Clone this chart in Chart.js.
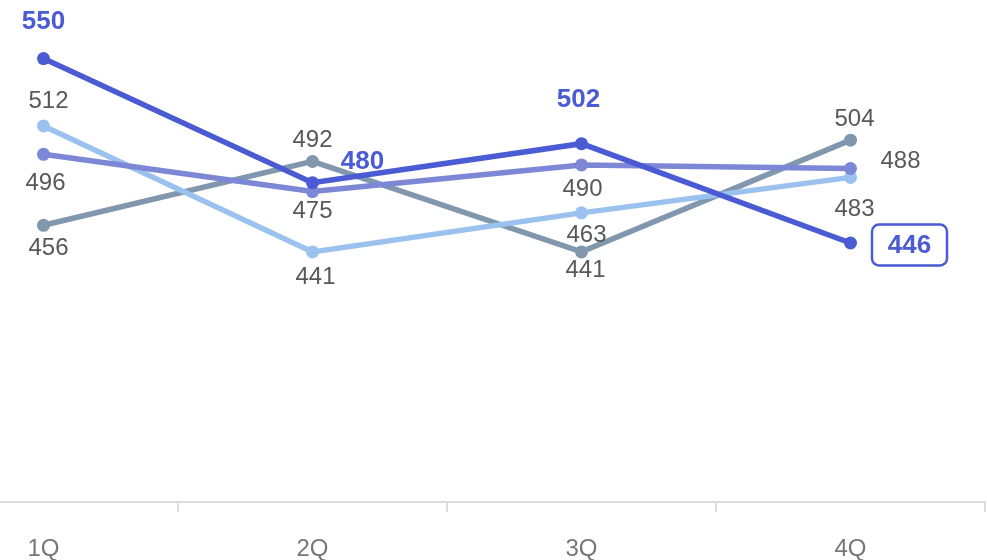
<!DOCTYPE html>
<html>
<head>
<meta charset="utf-8">
<script src="https://cdn.jsdelivr.net/npm/chart.js@4/dist/chart.umd.min.js"></script>
<style>
html,body{margin:0;padding:0;background:#fff;overflow:hidden;width:987px;height:560px;}
#wrap{position:absolute;left:-91px;top:0;width:1078px;height:560px;}
</style>
</head>
<body>
<div id="wrap"><canvas id="c" width="1078" height="560"></canvas></div>
<script>
const categories = ['1Q', '2Q', '3Q', '4Q'];
const seriesA = [550, 480, 502, 446];
const seriesB = [512, 441, 463, 483];
const seriesC = [496, 475, 490, 488];
const seriesD = [456, 492, 441, 504];

// label placement offsets (style only)
const labelOffsetsA = [[0,-38],[50,-22],[-3,-45],[59,2]];
const labelOffsetsB = [[5,-26],[3,24],[5,22],[4,31]];
const labelOffsetsC = [[2,28],[0,19],[1,23],[50,-8]];
const labelOffsetsD = [[5,22],[0,-22],[4,17],[4,-22]];

const COL_A = '#4a5bd4', COL_B = '#9bc2ee', COL_C = '#7c87d6', COL_D = '#8097ae';

function ds(data, color, offs, bold, boxLast) {
  return {
    data, borderColor: color, backgroundColor: color,
    borderWidth: 5.5, pointRadius: 6.5, pointHoverRadius: 6.5,
    pointBorderWidth: 0, tension: 0, fill: false,
    labelOffsets: offs, labelBold: bold, labelBoxLast: boxLast
  };
}

const labelPlugin = {
  id: 'vlabels',
  afterDatasetsDraw(chart) {
    const ctx = chart.ctx;
    chart.data.datasets.forEach((d, di) => {
      const meta = chart.getDatasetMeta(di);
      meta.data.forEach((pt, i) => {
        const [dx, dy] = d.labelOffsets[i];
        const x = pt.x + dx, y = pt.y + dy;
        ctx.save();
        ctx.textAlign = 'center';
        ctx.textBaseline = 'middle';
        if (d.labelBold) {
          ctx.font = 'bold 26px "Liberation Sans", Arial, sans-serif';
          ctx.fillStyle = d.borderColor;
          if (d.labelBoxLast && i === meta.data.length - 1) {
            const w = 75, h = 41, r = 7;
            ctx.beginPath();
            ctx.roundRect(x - w/2, y - h/2, w, h, r);
            ctx.fillStyle = '#fff';
            ctx.fill();
            ctx.lineWidth = 2.5;
            ctx.strokeStyle = d.borderColor;
            ctx.stroke();
            ctx.fillStyle = d.borderColor;
          }
        } else {
          ctx.font = '24px "Liberation Sans", Arial, sans-serif';
          ctx.fillStyle = '#595959';
        }
        ctx.fillText(String(d.data[i]), x, y + 1);
        ctx.restore();
      });
    });
  }
};

new Chart(document.getElementById('c'), {
  type: 'line',
  data: {
    labels: categories,
    datasets: [
      ds(seriesA, COL_A, labelOffsetsA, true, true),
      ds(seriesC, COL_C, labelOffsetsC, false, false),
      ds(seriesB, COL_B, labelOffsetsB, false, false),
      ds(seriesD, COL_D, labelOffsetsD, false, false)
    ]
  },
  options: {
    responsive: false,
    animation: false,
    devicePixelRatio: 1,
    layout: { autoPadding: false, padding: { left: 0, right: 2, top: 0, bottom: 0 } },
    plugins: { legend: { display: false }, tooltip: { enabled: false } },
    scales: {
      y: { display: false, min: 300, max: 583 },
      x: {
        offset: true,
        grid: { drawOnChartArea: false, drawTicks: true, tickLength: 10, color: '#dddddd', lineWidth: 2, offset: true },
        border: { display: true, color: '#dddddd', width: 2 },
        ticks: { color: '#777777', font: { size: 24, family: '"Liberation Sans", Arial, sans-serif' }, padding: 23 },
        afterFit: (s) => { s.height = 58; }
      }
    }
  },
  plugins: [labelPlugin]
});
</script>
</body>
</html>
